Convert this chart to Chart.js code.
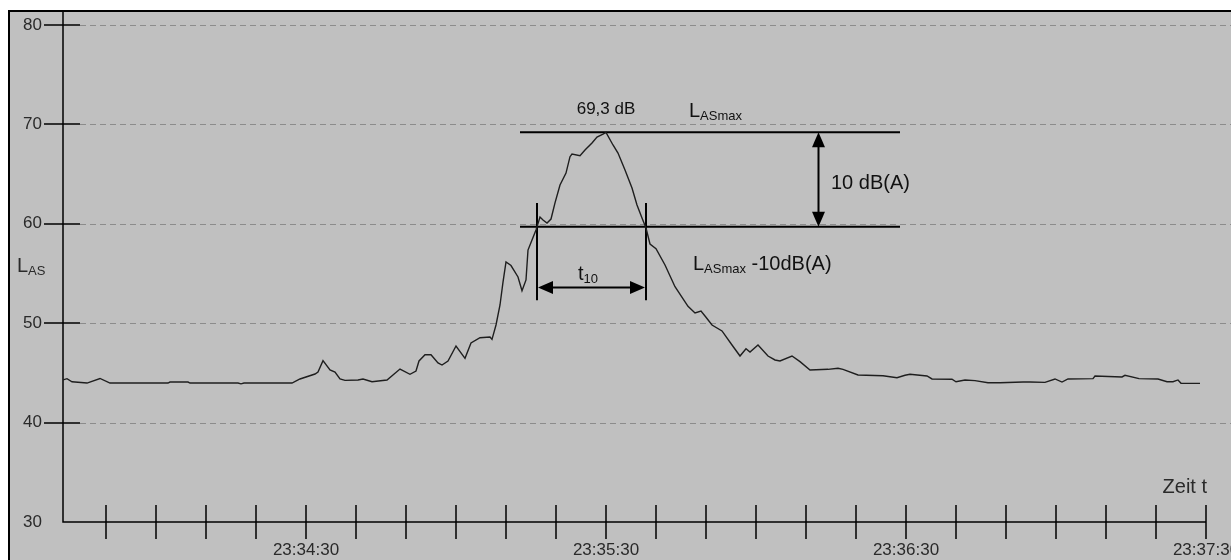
<!DOCTYPE html>
<html>
<head>
<meta charset="utf-8">
<script src="https://cdn.jsdelivr.net/npm/chart.js@4/dist/chart.umd.min.js"></script>
<style>
  html, body { margin: 0; padding: 0; background: #fff; overflow: hidden; }
  #wrap { width: 1231px; height: 560px; overflow: hidden; }
  canvas { display: block; }
</style>
</head>
<body>
<div id="wrap"><canvas id="noiseChart" width="1265" height="560"></canvas></div>
<script>
// time in seconds after 23:33:00, level in dB(A)
const times = [
  41.4, 42.2, 43.2, 46.2, 48.8, 50.8, 62.4, 62.8, 66.4, 66.8,
  76.4, 77.0, 77.6, 87.2, 88.8, 91.8, 92.4, 93.4, 94.8, 95.8,
  96.8, 97.8, 100.4, 101.4, 103.2, 106.2, 108.8, 110.8, 112.0, 112.6,
  113.8, 115.0, 116.4, 117.2, 118.4, 120.0, 121.8, 123.0, 124.8, 126.8,
  127.2, 128.0, 128.8, 129.4, 130.0, 131.0, 132.4, 133.2, 134.0, 134.4,
  135.2, 136.0, 136.8, 137.4, 138.2, 139.0, 139.8, 140.8, 142.0, 142.8,
  143.2, 144.8, 145.8, 147.2, 148.2, 149.4, 150.0, 151.4, 152.4, 153.8,
  155.2, 156.2, 157.2, 158.0, 158.8, 160.0, 161.8, 163.8, 166.4, 167.8,
  169.0, 170.0, 171.2, 173.2, 175.2, 176.8, 178.0, 178.8, 180.4, 182.4,
  183.8, 184.8, 187.2, 188.8, 190.8, 194.4, 196.4, 197.4, 200.4, 205.4,
  208.2, 209.8, 210.8, 214.2, 215.2, 219.2, 220.0, 221.8, 223.8, 226.4,
  228.8, 233.4, 234.8, 237.8, 239.8, 241.2, 242.4, 247.4, 247.8, 253.2,
  253.8, 256.6, 260.4, 262.2, 263.4, 264.4, 265.0, 268.8
];
const levels = [
  44.29, 44.42, 44.11, 43.98, 44.44, 43.98, 43.98, 44.08, 44.08, 43.98,
  43.98, 43.90, 43.98, 43.98, 44.39, 44.89, 45.09, 46.23, 45.29, 45.09,
  44.39, 44.25, 44.29, 44.39, 44.11, 44.29, 45.39, 44.86, 45.19, 46.20,
  46.83, 46.83, 46.00, 45.79, 46.20, 47.71, 46.47, 48.01, 48.54, 48.61,
  48.37, 49.82, 51.83, 54.14, 56.16, 55.80, 54.65, 53.27, 54.35, 57.36,
  58.37, 59.38, 60.68, 60.38, 60.08, 60.48, 62.10, 63.90, 65.10, 66.75,
  67.02, 66.85, 67.42, 68.13, 68.73, 69.03, 69.20, 67.93, 67.12, 65.41,
  63.60, 61.89, 60.58, 59.58, 57.97, 57.50, 55.86, 53.67, 51.70, 51.03,
  51.23, 50.60, 49.82, 49.22, 47.81, 46.70, 47.43, 47.10, 47.81, 46.70,
  46.30, 46.20, 46.70, 46.13, 45.29, 45.36, 45.46, 45.36, 44.79, 44.72,
  44.52, 44.76, 44.86, 44.69, 44.39, 44.36, 44.11, 44.29, 44.22, 44.01,
  44.01, 44.08, 44.08, 44.05, 44.39, 44.08, 44.39, 44.42, 44.69, 44.59,
  44.76, 44.42, 44.39, 44.11, 44.11, 44.29, 43.95, 43.95
];

// axes
const yTicks = [30, 40, 50, 60, 70, 80];
const minorTickTimes = [50, 60, 70, 80, 90, 100, 110, 120, 130, 140, 150, 160,
  170, 180, 190, 200, 210, 220, 230, 240, 250, 260, 270];
const labelTimes = [90, 150, 210, 270];
const tickLabels = ["23:34:30", "23:35:30", "23:36:30", "23:37:30"];

// annotation values
const maxLevel = 69.2;
const lowLevel = 59.7;
const levelLineSpan = [132.8, 208.8];
const t10Span = [136.2, 158.0];
const t10LineLevels = [52.3, 62.1];
const t10ArrowLevel = 53.6;
const dbArrowTime = 192.5;

const FONT = '"Liberation Sans", Arial, sans-serif';

function seg(x0, y0, x1, y1) {
  return [{ x: x0, y: y0 }, { x: x1, y: y1 }];
}

function lineSet(data) {
  return { data: data, borderColor: '#000', borderWidth: 2, pointRadius: 0, tension: 0 };
}

// text with subscript
function subText(ctx, x, y, main, sub, rest) {
  ctx.font = '20px ' + FONT;
  ctx.fillText(main, x, y);
  x += ctx.measureText(main).width;
  ctx.font = '13px ' + FONT;
  ctx.fillText(sub, x, y + 3);
  x += ctx.measureText(sub).width;
  if (rest) {
    ctx.font = '20px ' + FONT;
    ctx.fillText(rest, x, y);
  }
}

function arrowHead(ctx, tipX, tipY, dx, dy) {
  // dx,dy: direction pointing to the tip
  const len = 15, half = 6.5;
  const bx = tipX - dx * len, by = tipY - dy * len;
  ctx.beginPath();
  ctx.moveTo(tipX, tipY);
  ctx.lineTo(bx - dy * half, by + dx * half);
  ctx.lineTo(bx + dy * half, by - dx * half);
  ctx.closePath();
  ctx.fill();
}

const extras = {
  id: 'extras',
  beforeDraw(chart) {
    const ctx = chart.ctx;
    ctx.save();
    ctx.fillStyle = '#fff';
    ctx.fillRect(0, 0, chart.width, chart.height);
    ctx.fillStyle = '#c0c0c0';
    ctx.fillRect(8, 10, chart.width, chart.height);
    ctx.strokeStyle = '#000';
    ctx.lineWidth = 2;
    ctx.beginPath();
    ctx.moveTo(9, chart.height);
    ctx.lineTo(9, 11);
    ctx.lineTo(chart.width, 11);
    ctx.stroke();
    ctx.restore();
  },
  beforeDatasetsDraw(chart) {
    const { ctx, chartArea: a, scales: { x, y } } = chart;
    ctx.save();
    // dashed grid
    ctx.strokeStyle = '#8c8c8c';
    ctx.lineWidth = 1;
    ctx.setLineDash([6, 4]);
    yTicks.slice(1).forEach(v => {
      const py = Math.round(y.getPixelForValue(v)) + 0.5;
      ctx.beginPath();
      ctx.moveTo(a.left + 17, py);
      ctx.lineTo(chart.width, py);
      ctx.stroke();
    });
    ctx.setLineDash([]);
    ctx.strokeStyle = '#000';
    ctx.lineWidth = 1.5;
    // y tick marks
    yTicks.slice(1).forEach(v => {
      const py = Math.round(y.getPixelForValue(v));
      ctx.beginPath();
      ctx.moveTo(a.left - 19, py);
      ctx.lineTo(a.left + 17, py);
      ctx.stroke();
    });
    // axes
    ctx.beginPath();
    ctx.moveTo(a.left, 11);
    ctx.lineTo(a.left, a.bottom);
    ctx.lineTo(x.getPixelForValue(270), a.bottom);
    ctx.stroke();
    // x tick marks
    minorTickTimes.forEach(t => {
      const px = Math.round(x.getPixelForValue(t));
      ctx.beginPath();
      ctx.moveTo(px, a.bottom - 17);
      ctx.lineTo(px, a.bottom + 17);
      ctx.stroke();
    });
    ctx.restore();
  },
  afterDatasetsDraw(chart) {
    const { ctx, chartArea: a, scales: { x, y } } = chart;
    ctx.save();
    ctx.fillStyle = '#000';
    ctx.strokeStyle = '#000';
    ctx.lineWidth = 2;

    // vertical 10 dB arrow
    const ax = x.getPixelForValue(dbArrowTime);
    const yTop = y.getPixelForValue(maxLevel), yLow = y.getPixelForValue(lowLevel);
    ctx.beginPath();
    ctx.moveTo(ax, yTop + 10);
    ctx.lineTo(ax, yLow - 10);
    ctx.stroke();
    arrowHead(ctx, ax, yTop, 0, -1);
    arrowHead(ctx, ax, yLow, 0, 1);

    // horizontal t10 arrow
    const hy = y.getPixelForValue(t10ArrowLevel);
    const hx0 = x.getPixelForValue(t10Span[0]), hx1 = x.getPixelForValue(t10Span[1]);
    ctx.beginPath();
    ctx.moveTo(hx0 + 10, hy);
    ctx.lineTo(hx1 - 10, hy);
    ctx.stroke();
    arrowHead(ctx, hx0 + 1, hy, -1, 0);
    arrowHead(ctx, hx1 - 1, hy, 1, 0);

    // texts
    ctx.textBaseline = 'alphabetic';
    ctx.fillStyle = '#111';
    ctx.textAlign = 'center';
    ctx.font = '17px ' + FONT;
    ctx.fillText('69,3 dB', x.getPixelForValue(150), y.getPixelForValue(71.0));
    ctx.textAlign = 'left';
    subText(ctx, x.getPixelForValue(166.6), y.getPixelForValue(70.75), 'L', 'ASmax');
    subText(ctx, x.getPixelForValue(167.4), y.getPixelForValue(55.35), 'L', 'ASmax', ' -10dB(A)');
    subText(ctx, x.getPixelForValue(144.4), y.getPixelForValue(54.35), 't', '10');
    ctx.font = '20px ' + FONT;
    ctx.textBaseline = 'middle';
    ctx.fillText('10 dB(A)', x.getPixelForValue(195), y.getPixelForValue(64.1));
    ctx.textBaseline = 'alphabetic';
    ctx.fillStyle = '#2a2a2a';
    ctx.textAlign = 'right';
    ctx.fillText('Zeit t', x.getPixelForValue(270.2), y.getPixelForValue(32.9));
    ctx.textAlign = 'left';
    subText(ctx, a.left - 46, y.getPixelForValue(55.15), 'L', 'AS');
    ctx.restore();
  }
};

new Chart(document.getElementById('noiseChart'), {
  type: 'line',
  data: {
    datasets: [
      {
        data: times.map((t, i) => ({ x: t, y: levels[i] })),
        borderColor: '#1e1e1e',
        borderWidth: 1.4,
        pointRadius: 0,
        tension: 0
      },
      lineSet(seg(levelLineSpan[0], maxLevel, levelLineSpan[1], maxLevel)),
      lineSet(seg(levelLineSpan[0], lowLevel, levelLineSpan[1], lowLevel)),
      lineSet(seg(t10Span[0], t10LineLevels[0], t10Span[0], t10LineLevels[1])),
      lineSet(seg(t10Span[1], t10LineLevels[0], t10Span[1], t10LineLevels[1]))
    ]
  },
  options: {
    responsive: false,
    animation: false,
    events: [],
    devicePixelRatio: 1,
    layout: { padding: { top: 25, right: 59, bottom: 0, left: 0 } },
    plugins: { legend: { display: false }, tooltip: { enabled: false } },
    scales: {
      x: {
        type: 'linear',
        min: 41.4,
        max: 270,
        grid: { display: false, drawTicks: false },
        border: { display: false },
        afterFit(scale) { scale.height = 38; scale.paddingLeft = 0; },
        afterBuildTicks(scale) { scale.ticks = labelTimes.map(v => ({ value: v })); },
        ticks: {
          autoSkip: false,
          maxRotation: 0,
          padding: 18,
          color: '#2a2a2a',
          font: { family: FONT, size: 17 },
          callback: (v) => tickLabels[labelTimes.indexOf(v)] || ''
        }
      },
      y: {
        min: 30,
        max: 80,
        grid: { display: false, drawTicks: false },
        border: { display: false },
        afterFit(scale) { scale.width = 63; scale.paddingTop = 0; scale.paddingBottom = 0; },
        ticks: {
          stepSize: 10,
          padding: 21,
          color: '#2a2a2a',
          font: { family: FONT, size: 17 }
        }
      }
    }
  },
  plugins: [extras]
});
</script>
</body>
</html>
